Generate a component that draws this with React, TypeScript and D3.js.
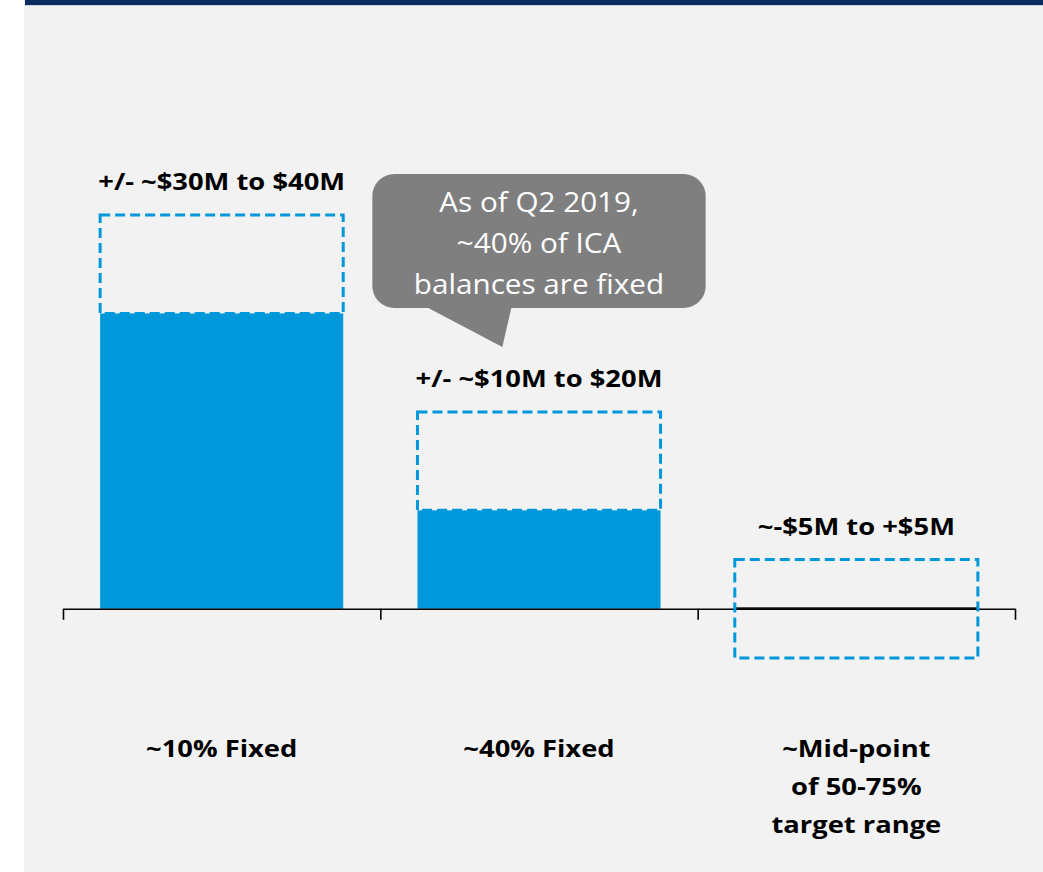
import React, { useRef, useEffect } from 'react';
import * as d3 from 'd3';

// categories, each split into its display lines
const categoryLines: string[][] = [
    ['~10% Fixed'],
    ['~40% Fixed'],
    ['~Mid-point', 'of 50-75%', 'target range'],
];
const categories = ['10% Fixed', '40% Fixed', 'Mid-point'];

// base bar value ($M) and sensitivity range (dashed box)
const barValues = [30, 10, 0];
const rangeLow = [30, 10, -5];
const rangeHigh = [40, 20, 5];
const rangeLabels = ['+/- ~$30M to $40M', '+/- ~$10M to $20M', '~-$5M to +$5M'];

const calloutLines = ['As of Q2 2019,', '~40% of ICA', 'balances are fixed'];

const W = 1043;
const H = 872;
const BLUE = '#0098da';

const App: React.FC = () => {
    const svgRef = useRef<SVGSVGElement | null>(null);

    useEffect(() => {
        if (!svgRef.current) return;
        const svg = d3.select(svgRef.current);
        svg.selectAll('*').remove();

        // page background / frame
        svg.append('rect').attr('width', W).attr('height', H).attr('fill', '#ffffff');
        svg.append('rect').attr('x', 24).attr('y', 0).attr('width', W - 24).attr('height', H).attr('fill', '#f2f2f2');
        svg.append('rect').attr('x', 25).attr('y', 0).attr('width', W - 25).attr('height', 5).attr('fill', '#0b2b5c');
        svg.append('line').attr('x1', 25).attr('x2', W).attr('y1', 5.5).attr('y2', 5.5).attr('stroke', '#c9d2df').attr('stroke-width', 1);

        const x = d3.scaleBand<string>().domain(categories).range([63, 1015]).padding(0);
        const xEdge = d3.scaleLinear().domain([0, categories.length]).range([63, 1015]);
        const y = d3.scaleLinear().domain([-5, 40]).range([658, 215]);

        const barW = x.bandwidth() * 0.766;
        const barX = (c: string) => (x(c) as number) + (x.bandwidth() - barW) / 2;
        const cx = (c: string) => (x(c) as number) + x.bandwidth() / 2;

        const g = svg.append('g');

        // bars
        categories.forEach((c, i) => {
            const v = barValues[i];
            if (v !== 0) {
                g.append('rect')
                    .attr('x', barX(c))
                    .attr('y', y(Math.max(0, v)))
                    .attr('width', barW)
                    .attr('height', Math.abs(y(v) - y(0)))
                    .attr('fill', BLUE);
            } else {
                g.append('line')
                    .attr('x1', barX(c))
                    .attr('x2', barX(c) + barW)
                    .attr('y1', y(0) - 0.5)
                    .attr('y2', y(0) - 0.5)
                    .attr('stroke', '#1a1a1a')
                    .attr('stroke-width', 2);
            }
        });

        // axis: line with ticks on the category boundaries
        const axis = d3
            .axisBottom(xEdge)
            .tickValues(d3.range(categories.length + 1))
            .tickSize(11)
            .tickSizeOuter(0)
            .tickFormat(() => '');
        const ax = g.append('g').attr('transform', `translate(0, ${y(0)})`).call(axis);
        ax.selectAll('path, line').attr('stroke', '#000').attr('stroke-width', 1.6);

        // dashed sensitivity boxes
        categories.forEach((c, i) => {
            g.append('rect')
                .attr('x', barX(c))
                .attr('y', y(rangeHigh[i]))
                .attr('width', barW)
                .attr('height', y(rangeLow[i]) - y(rangeHigh[i]))
                .attr('fill', 'none')
                .attr('stroke', BLUE)
                .attr('stroke-width', 3)
                .attr('stroke-dasharray', '10 5');

            g.append('text')
                .attr('transform', `translate(${cx(c)}, ${y(rangeHigh[i]) - 25}) scale(1.14, 1)`)
                .attr('text-anchor', 'middle')
                .attr('font-family', 'Open Sans, sans-serif')
                .attr('font-weight', 700)
                .attr('font-size', 24)
                .attr('fill', '#000')
                .text(rangeLabels[i]);
        });

        // category labels
        categories.forEach((c, i) => {
            categoryLines[i].forEach((line, j) => {
                g.append('text')
                    .attr('transform', `translate(${cx(c)}, ${y(0) + 148 + j * 38}) scale(1.14, 1)`)
                    .attr('text-anchor', 'middle')
                    .attr('font-family', 'Open Sans, sans-serif')
                    .attr('font-weight', 700)
                    .attr('font-size', 24)
                    .attr('fill', '#000')
                    .text(line);
            });
        });

        // callout bubble over the second category
        const c2 = categories[1];
        const bx = (x(c2) as number) - 8;
        const bw = x.bandwidth() + 16;
        const by = 174;
        const bh = 134;
        const callout = g.append('g');
        callout.append('path')
            .attr('d', `M${bx + 56},${by + bh} L${bx + 130},${by + bh + 39} L${bx + 139},${by + bh} Z`)
            .attr('fill', '#7f7f7f');
        callout.append('rect')
            .attr('x', bx)
            .attr('y', by)
            .attr('width', bw)
            .attr('height', bh)
            .attr('rx', 22)
            .attr('fill', '#7f7f7f');
        calloutLines.forEach((line, j) => {
            callout.append('text')
                .attr('transform', `translate(${bx + bw / 2}, ${by + 38 + j * 41}) scale(1.06, 1)`)
                .attr('text-anchor', 'middle')
                .attr('font-family', 'Open Sans, sans-serif')
                .attr('font-size', 28)
                .attr('fill', '#ffffff')
                .text(line);
        });
    }, []);

    return (
        <svg
            ref={svgRef}
            width={W}
            height={H}
            style={{ position: 'absolute', left: 0, top: 0, display: 'block' }}
        />
    );
};

export default App;
